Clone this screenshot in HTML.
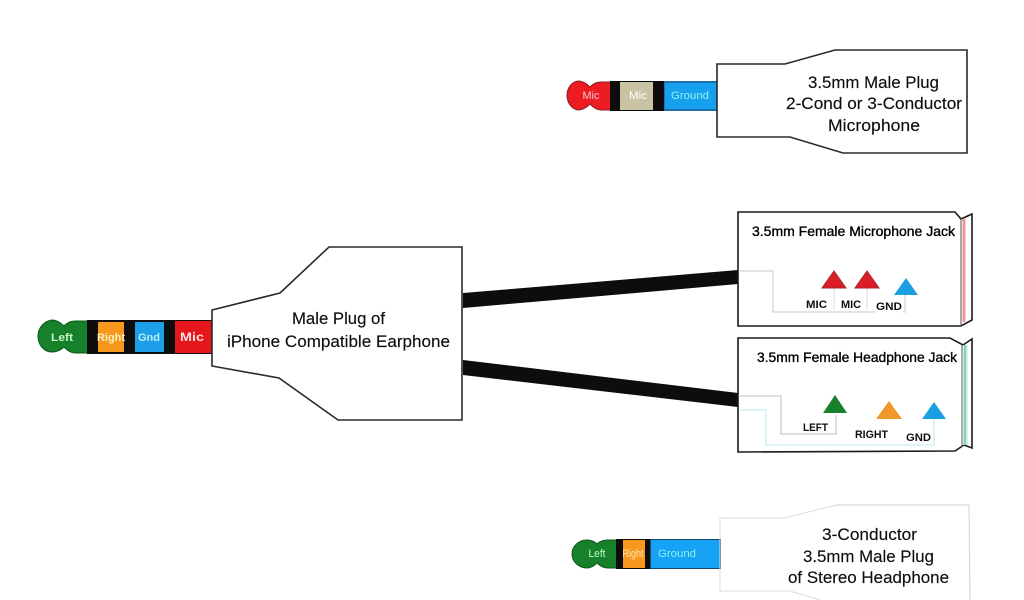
<!DOCTYPE html>
<html>
<head>
<meta charset="utf-8">
<style>
html,body{margin:0;padding:0;background:#fff;width:1024px;height:600px;overflow:hidden}
svg{display:block}
text{font-family:"Liberation Sans",sans-serif;fill:#111}
.b{font-size:17px;stroke:#111;stroke-width:.15}
.j{font-size:14px;fill:#000;stroke:#000;stroke-width:.35}
.l{font-size:11px;font-weight:bold;fill:#111}
.p{font-size:11px;fill:#fff;text-anchor:middle}
#all{filter:url(#soft)}
</style>
</head>
<body>
<svg width="1024" height="600" viewBox="0 0 1024 600" xmlns="http://www.w3.org/2000/svg">
<defs><filter id="soft" filterUnits="userSpaceOnUse" x="0" y="0" width="1024" height="600"><feGaussianBlur stdDeviation="0.3"/></filter></defs>
<rect width="1024" height="600" fill="#fff"/>
<g id="all">

<!-- Top plug -->
<g stroke-linejoin="round">
<path d="M590,87 C586,83 582,81 578,81 C571,82 567,89 567,95 C567,102 571,109 578,110 C583,110 587,107 590,104 C593,107 596,110 602,110 L612,110 L612,82 L602,82 C596,82 593,84 590,87Z" fill="#ed1c24" stroke="#8a1a20" stroke-width="1"/>
<rect x="610" y="81" width="54" height="30" fill="#0c0c0c"/>
<rect x="620" y="82" width="33" height="28" fill="#c9c3a2"/>
<rect x="664" y="81" width="53" height="30" fill="#1b6fa8"/>
<rect x="665" y="83" width="52" height="26" fill="#17a0ee"/>
</g>
<text class="p" x="591" y="99" style="fill:#f6c8c8" textLength="17" lengthAdjust="spacingAndGlyphs">Mic</text>
<text class="p" x="638" y="99" style="fill:#fff" textLength="18" lengthAdjust="spacingAndGlyphs">Mic</text>
<text class="p" x="690" y="99" style="fill:#8ff2f2" textLength="38" lengthAdjust="spacingAndGlyphs">Ground</text>
<polygon points="717,64 785,64 835,50 967,50 967,153 843,153 790,137 717,137" fill="#fff" stroke="#2a2a2a" stroke-width="1.6"/>
<text class="b" x="808" y="88" textLength="131" lengthAdjust="spacingAndGlyphs">3.5mm Male Plug</text>
<text class="b" x="786" y="109" textLength="176" lengthAdjust="spacingAndGlyphs">2-Cond or 3-Conductor</text>
<text class="b" x="828" y="131" textLength="92" lengthAdjust="spacingAndGlyphs">Microphone</text>

<!-- Cables -->
<polygon points="463,293 738,270 738,284 463,308" fill="#0a0a0a"/>
<polygon points="463,360 738,393 738,407 463,375" fill="#0a0a0a"/>

<!-- Main plug -->
<path d="M64,326 C60,322 56,320 52,320 C44,321 38,328 38,336 C38,345 44,352 52,352 C57,352 61,350 64,347 C67,350 70,353 76,353 L90,353 L90,321 L76,321 C70,321 67,323 64,326Z" fill="#12802a" stroke="#0d5a1e" stroke-width="1"/>
<rect x="87" y="320" width="126" height="34" fill="#0c0c0c"/>
<rect x="98" y="322" width="26" height="30" fill="#f7981d"/>
<rect x="135" y="322" width="29" height="30" fill="#1c9fe8"/>
<rect x="175" y="321" width="38" height="32" fill="#e5131a"/>
<text class="p" x="62" y="341" style="fill:#c8f5c8;font-weight:bold" textLength="22" lengthAdjust="spacingAndGlyphs">Left</text>
<text class="p" x="111" y="341" style="fill:#fdeec0;font-weight:bold" textLength="28" lengthAdjust="spacingAndGlyphs">Right</text>
<text class="p" x="149" y="341" style="fill:#b5f0f5;font-weight:bold" textLength="22" lengthAdjust="spacingAndGlyphs">Gnd</text>
<text class="p" x="192" y="341" style="fill:#fbdede;font-weight:bold;font-size:12px" textLength="24" lengthAdjust="spacingAndGlyphs">Mic</text>
<polygon points="212,310 280,293 329,247 462,247 462,420 338,420 279,378 212,366" fill="#fff" stroke="#2a2a2a" stroke-width="1.6"/>
<text class="b" x="292" y="324" textLength="93" lengthAdjust="spacingAndGlyphs">Male Plug of</text>
<text class="b" x="227" y="347" textLength="223" lengthAdjust="spacingAndGlyphs">iPhone Compatible Earphone</text>

<!-- Mic jack -->
<polygon points="738,212 955,212 961,219 972,214 972,320 961,326 738,326" fill="#fff" stroke="#1a1a1a" stroke-width="1.6"/>
<line x1="961" y1="219" x2="961" y2="326" stroke="#555" stroke-width="1"/>
<rect x="962" y="219" width="4" height="103" fill="#f6cccc"/>
<line x1="964" y1="218" x2="964" y2="322" stroke="#d76a6a" stroke-width="1"/>
<path d="M740,271 H773 V312 H905 V295" fill="none" stroke="#c8c8c8" stroke-width="1"/>
<path d="M834,288 V310 M867,288 V310" fill="none" stroke="#d8d8d8" stroke-width="1"/>
<polygon points="834,271 846,288 822,288" fill="#dc1f26" stroke="#a3262b" stroke-width="1"/>
<polygon points="867,271 879,288 855,288" fill="#dc1f26" stroke="#a3262b" stroke-width="1"/>
<polygon points="906,278 918,295 894,295" fill="#1e9fe0"/>
<text class="j" x="752" y="236" textLength="203" lengthAdjust="spacingAndGlyphs">3.5mm Female Microphone Jack</text>
<rect x="805" y="298" width="23" height="13" fill="#fff"/>
<rect x="840" y="298" width="23" height="13" fill="#fff"/>
<rect x="875" y="300" width="28" height="13" fill="#fff"/>
<text class="l" x="806" y="308" textLength="21" lengthAdjust="spacingAndGlyphs">MIC</text>
<text class="l" x="841" y="308" textLength="20" lengthAdjust="spacingAndGlyphs">MIC</text>
<text class="l" x="876" y="310" textLength="26" lengthAdjust="spacingAndGlyphs">GND</text>

<!-- Headphone jack -->
<polygon points="738,338 950,338 963,345 972,339 972,448 964,445 955,451 738,452" fill="#fff" stroke="#1a1a1a" stroke-width="1.6"/>
<line x1="962" y1="345" x2="962" y2="447" stroke="#555" stroke-width="1"/>
<rect x="963" y="345" width="5" height="100" fill="#cdf2e6"/>
<line x1="965" y1="345" x2="965" y2="445" stroke="#2fa883" stroke-width="1"/>
<path d="M740,396 H781 V434 H836 V415" fill="none" stroke="#bcbcbc" stroke-width="1"/>
<path d="M740,410 H766 V445 H934 V419" fill="none" stroke="#c6eef2" stroke-width="1.3"/>
<polygon points="835,395 847,413 823,413" fill="#12802a"/>
<polygon points="889,401 902,419 876,419" fill="#f0982a"/>
<polygon points="934,402 946,419 922,419" fill="#1e9fe0"/>
<text class="j" x="757" y="362" textLength="200" lengthAdjust="spacingAndGlyphs">3.5mm Female Headphone Jack</text>
<rect x="802" y="421" width="28" height="12" fill="#fff"/>
<text class="l" x="803" y="431" textLength="25" lengthAdjust="spacingAndGlyphs">LEFT</text>
<text class="l" x="855" y="438" textLength="33" lengthAdjust="spacingAndGlyphs">RIGHT</text>
<rect x="905" y="431" width="27" height="12" fill="#fff"/>
<text class="l" x="906" y="441" textLength="25" lengthAdjust="spacingAndGlyphs">GND</text>

<!-- Bottom plug -->
<path d="M597,544 C594,541 591,540 587,540 C579,540 572,546 572,554 C572,562 579,568 587,568 C591,568 594,566 597,563 C600,566 603,568 608,568 L618,568 L618,540 L608,540 C603,540 600,541 597,544Z" fill="#12802a" stroke="#0d5a1e" stroke-width="1"/>
<rect x="616" y="539" width="34" height="30" fill="#0c0c0c"/>
<rect x="623" y="540" width="22" height="28" fill="#f7981d"/>
<rect x="650" y="539" width="71" height="30" fill="#12486f"/>
<rect x="651" y="540" width="69" height="28" fill="#12a2f5"/>
<text class="p" x="597" y="557" style="fill:#c8f5c8" textLength="17" lengthAdjust="spacingAndGlyphs">Left</text>
<text class="p" x="633" y="557" style="fill:#fde6b0" textLength="21" lengthAdjust="spacingAndGlyphs">Right</text>
<text class="p" x="677" y="557" style="fill:#8ff2f2" textLength="38" lengthAdjust="spacingAndGlyphs">Ground</text>
<polyline points="836,505 969,505 970,600" fill="none" stroke="#d2d2d2" stroke-width="1"/>
<polyline points="836,505 785,518 720,518 720,591 790,591 820,600" fill="none" stroke="#dcdcdc" stroke-width="1"/>
<text class="b" x="822" y="540" textLength="95" lengthAdjust="spacingAndGlyphs">3-Conductor</text>
<text class="b" x="803" y="562" textLength="131" lengthAdjust="spacingAndGlyphs">3.5mm Male Plug</text>
<text class="b" x="788" y="583" textLength="161" lengthAdjust="spacingAndGlyphs">of Stereo Headphone</text>
</g>
</svg>
</body>
</html>
